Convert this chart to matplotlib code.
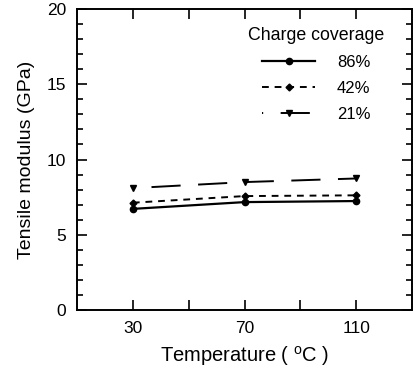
import matplotlib
matplotlib.use("Agg")
import matplotlib.pyplot as plt
from matplotlib.ticker import FixedLocator, MultipleLocator

plt.rcParams['font.family'] = ['Liberation Sans', 'DejaVu Sans']

temperature = [30, 70, 110]
cov_86 = [6.72, 7.17, 7.24]
cov_42 = [7.13, 7.57, 7.62]
cov_21 = [8.10, 8.50, 8.74]
series_labels = ["86%", "42%", "21%"]
x_tick_labels = ["30", "70", "110"]
y_ticks = [0, 5, 10, 15, 20]
y_tick_labels = ["0", "5", "10", "15", "20"]

fig = plt.figure(figsize=(4.17, 3.71), dpi=100)
ax = fig.add_axes([0.1847, 0.1644, 0.8033, 0.8113])

ax.plot(temperature, cov_86, color='black', lw=1.6, ls='-', marker='o', ms=4.5,
        label=series_labels[0])
ax.plot(temperature, cov_42, color='black', lw=1.4, ls=(0, (3.5, 3)), marker='D', ms=3.5,
        label=series_labels[1])
ax.plot(temperature, cov_21, color='black', lw=1.4, ls=(14.4, (15, 9)), marker='v', ms=4.5,
        label=series_labels[2])

ax.set_xlim(10, 130)
ax.set_ylim(0, 20)
ax.xaxis.set_major_locator(FixedLocator(temperature))
ax.xaxis.set_minor_locator(FixedLocator([50, 90]))
ax.set_xticklabels(x_tick_labels)
ax.yaxis.set_major_locator(FixedLocator(y_ticks))
ax.yaxis.set_minor_locator(MultipleLocator(1))
ax.set_yticklabels(y_tick_labels)

ax.tick_params(which='both', direction='in', top=True, right=True, width=1.2,
               labelsize=12.5)
ax.tick_params(which='major', length=7, pad=8)
ax.tick_params(which='minor', length=4)
ax.tick_params(axis='x', which='minor', length=7)
for s in ax.spines.values():
    s.set_linewidth(1.4)

ax.set_xlabel("Temperature ( $^{\\mathregular{o}}$C )", fontsize=14.5, labelpad=6)
ax.set_ylabel("Tensile modulus (GPa)", fontsize=14, labelpad=8)

leg = ax.legend(title="Charge coverage", frameon=False, loc='upper left',
                bbox_to_anchor=(0.466, 0.99), fontsize=12, title_fontsize=12.8,
                handlelength=3.2, handletextpad=1.3, labelspacing=0.65)

fig.savefig("out.png", dpi=100)
